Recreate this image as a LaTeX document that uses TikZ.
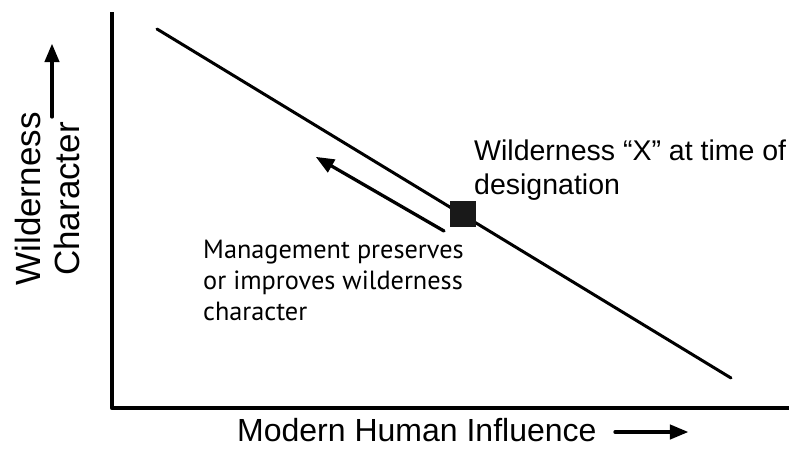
\documentclass[tikz,border=0pt]{standalone}
\usepackage{fontspec}
\setmainfont{Liberation Sans}
\newfontfamily\humfont{PT Sans}
\usetikzlibrary{arrows}

\tikzset{
  axisline/.style={line width=4.5pt},
  trendline/.style={line width=3pt},
  label/.style={inner sep=0pt},
  marker/.style={fill=black!90, inner sep=0pt, minimum size=26pt},
}

\begin{document}
\begin{tikzpicture}[line cap=round,line join=round,>=triangle 45,x=1pt,y=-1pt]
\useasboundingbox (0,0) rectangle (791,448);
%
% axes
\coordinate (ytop) at (112,12);
\coordinate (orig) at (112,408);
\coordinate (xend) at (789,408);
\draw[axisline,line cap=butt] (ytop) -- (orig) -- (xend);
%
% wilderness line
\coordinate (ltop) at (157,29);
\coordinate (lbot) at (731,378);
\draw[trendline] (ltop) -- (lbot);
\node[marker] (wx) at (463,214) {};
\node[label,anchor=base west,font=\fontsize{28.5}{34}\selectfont,align=left] (wxlab) at (474,194)
  {Wilderness ``X'' at time of\\designation};
%
% management arrow
\coordinate (mstart) at (444,231);
\coordinate (mend) at (316,157);
\draw[trendline,->,line width=3.3pt] (mstart) -- (mend);
\node[label,anchor=base west,font=\humfont\fontsize{26.3}{31}\selectfont,align=left] (mlab) at (203,320)
  {Management preserves\\or improves wilderness\\character};
%
% axis labels
\node[label,rotate=90,anchor=center,font=\fontsize{35}{39}\selectfont,align=center] (ylab) at (47,199)
  {Wilderness\\Character};
\coordinate (yafrom) at (52,117);
\coordinate (yato) at (52,44);
\draw[trendline,->,line width=3.3pt] (yafrom) -- (yato);
%
\node[label,anchor=base west,font=\fontsize{32}{36}\selectfont] (xlab) at (237,441)
  {Modern Human Influence};
\coordinate (xafrom) at (615,432);
\coordinate (xato) at (688,432);
\draw[trendline,->,line width=3.3pt] (xafrom) -- (xato);
\end{tikzpicture}
\end{document}
